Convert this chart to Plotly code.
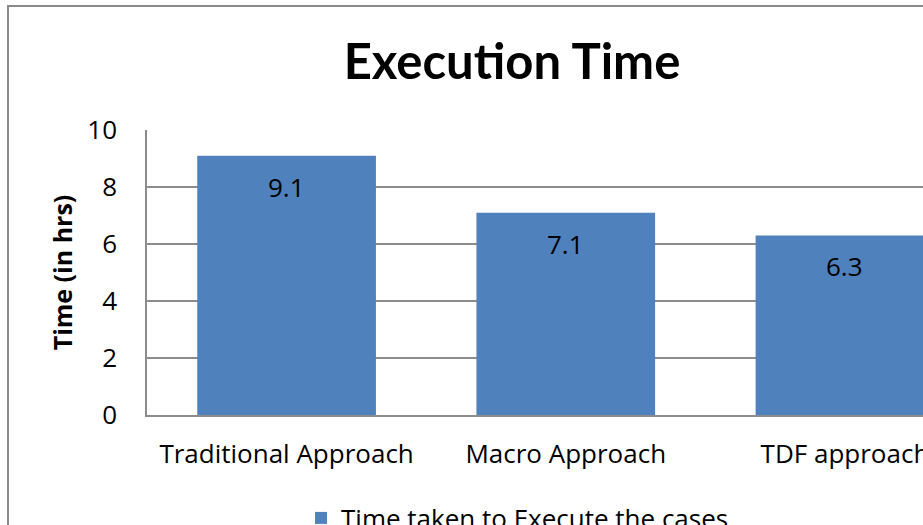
import plotly.graph_objects as go

categories = ["Traditional Approach", "Macro Approach", "TDF approach"]
values = [9.1, 7.1, 6.3]
series_name = "Time taken to Execute the cases"
y_ticks = [0, 2, 4, 6, 8, 10]

BAR = "#4F81BD"
GRID = "#8C8C8C"
FONT = "Open Sans"
TFONT = "Lato"

fig = go.Figure()
fig.add_trace(go.Bar(
    x=categories, y=values, name=series_name,
    marker=dict(color=BAR, line=dict(width=0)),
    showlegend=True,
))

for c, v in zip(categories, values):
    fig.add_annotation(x=c, y=v, text=f"{v:.1f}", showarrow=False,
                       yanchor="middle", yshift=-31,
                       font=dict(family=FONT, size=26, color="black"))

W, H = 923, 525
L, R, T, B = 147, 0, 130, 110
pw = W - L - R
ph = H - T - B

def px_to_paper_x(px):
    return (px - L) / pw

def px_to_paper_y(py):
    return (H - B - py) / ph

# chart border (partially off-canvas)
fig.add_shape(type="rect", xref="paper", yref="paper",
              x0=px_to_paper_x(8), x1=px_to_paper_x(1100),
              y0=px_to_paper_y(700), y1=px_to_paper_y(6),
              line=dict(color="#8A8A8A", width=2), fillcolor="rgba(0,0,0,0)",
              layer="below")

fig.update_layout(
    width=W, height=H,
    margin=dict(l=L, r=R, t=T, b=B, autoexpand=False),
    paper_bgcolor="white", plot_bgcolor="white",
    bargap=0.36,
    title=dict(text="<b>Execution Time</b>", xref="container", yref="container",
               x=512 / W, xanchor="center", y=1 - 62 / H, yanchor="middle",
               font=dict(family=TFONT, size=49, color="black")),
    xaxis=dict(range=[-0.5, (923 - 287) / 279], showgrid=False, automargin=False,
               showline=True, linecolor=GRID, linewidth=1.5,
               ticks="outside", ticklen=15, tickcolor="rgba(0,0,0,0)",
               tickfont=dict(family=FONT, size=26, color="black")),
    yaxis=dict(range=[0, 10], tickvals=y_ticks, showgrid=True, gridcolor=GRID,
               automargin=False,
               gridwidth=1.5, showline=True, linecolor=GRID, linewidth=1.5,
               ticks="outside", ticklen=23, tickcolor="rgba(0,0,0,0)",
               tickfont=dict(family=FONT, size=26, color="black"),
               title=dict(text="<b>Time (in hrs)</b>", standoff=8,
                          font=dict(family=FONT, size=25, color="black")),
               zeroline=False),
    legend=dict(orientation="h", xref="container", yref="container",
                x=301 / W, xanchor="left", y=1 - 518 / H, yanchor="middle",
                font=dict(family=FONT, size=26, color="black"),
                bgcolor="rgba(0,0,0,0)"),
    showlegend=True,
)

fig.write_html("out.html")
